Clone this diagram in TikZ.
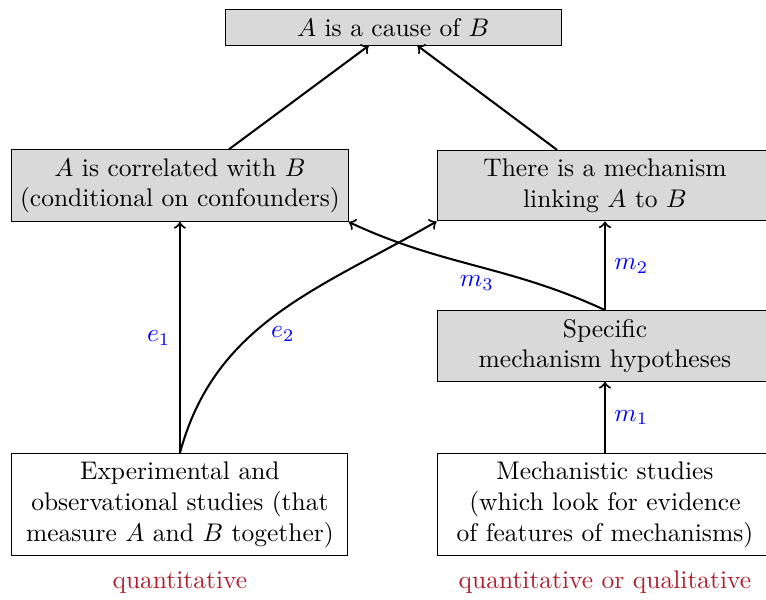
\documentclass[tikz,border=0pt]{standalone}
\definecolor{qualred}{RGB}{175,30,45}
\begin{document}
\begin{tikzpicture}[thick,
    box/.style={draw,thin,fill=black!15,align=center,minimum width=4.63cm},
    study/.style={box,fill=white},
    lab/.style={text=blue},
    kind/.style={text=qualred}]
  \useasboundingbox (0,0) rectangle (10.56,8.26);

  \node[box] (cause) at (5.42,7.88) {$A$ is a cause of $B$};
  \node[box] (corr) at (2.48,5.70) {$A$ is correlated with $B$\\(conditional on confounders)};
  \node[box] (mech) at (8.34,5.70) {There is a mechanism\\linking $A$ to $B$};
  \node[box] (spec) at (8.34,3.49) {Specific\\mechanism hypotheses};
  \node[study] (exper) at (2.48,1.30) {Experimental and\\observational studies (that\\measure $A$ and $B$ together)};
  \node[study] (mstud) at (8.34,1.30) {Mechanistic studies\\(which look for evidence\\of features of mechanisms)};
  \node[kind] (quant) at (2.48,0.23) {quantitative};
  \node[kind] (qual) at (8.34,0.23) {quantitative or qualitative};

  \draw[->] (corr) -- (cause);
  \draw[->] (mech) -- (cause);
  \draw[->] (exper) -- (corr) node[midway,left,lab]{$e_1$};
  \draw[->] (exper.north) to[out=75,in=210] node[pos=.52,below=3pt,lab]{$e_2$} (mech.south west);
  \draw[->] (spec.north) to[out=155,in=-25] node[midway,below,lab]{$m_3$} (corr.south east);
  \draw[->] (spec) -- (mech) node[midway,right,lab]{$m_2$};
  \draw[->] (mstud) -- (spec) node[midway,right,lab]{$m_1$};
\end{tikzpicture}
\end{document}
